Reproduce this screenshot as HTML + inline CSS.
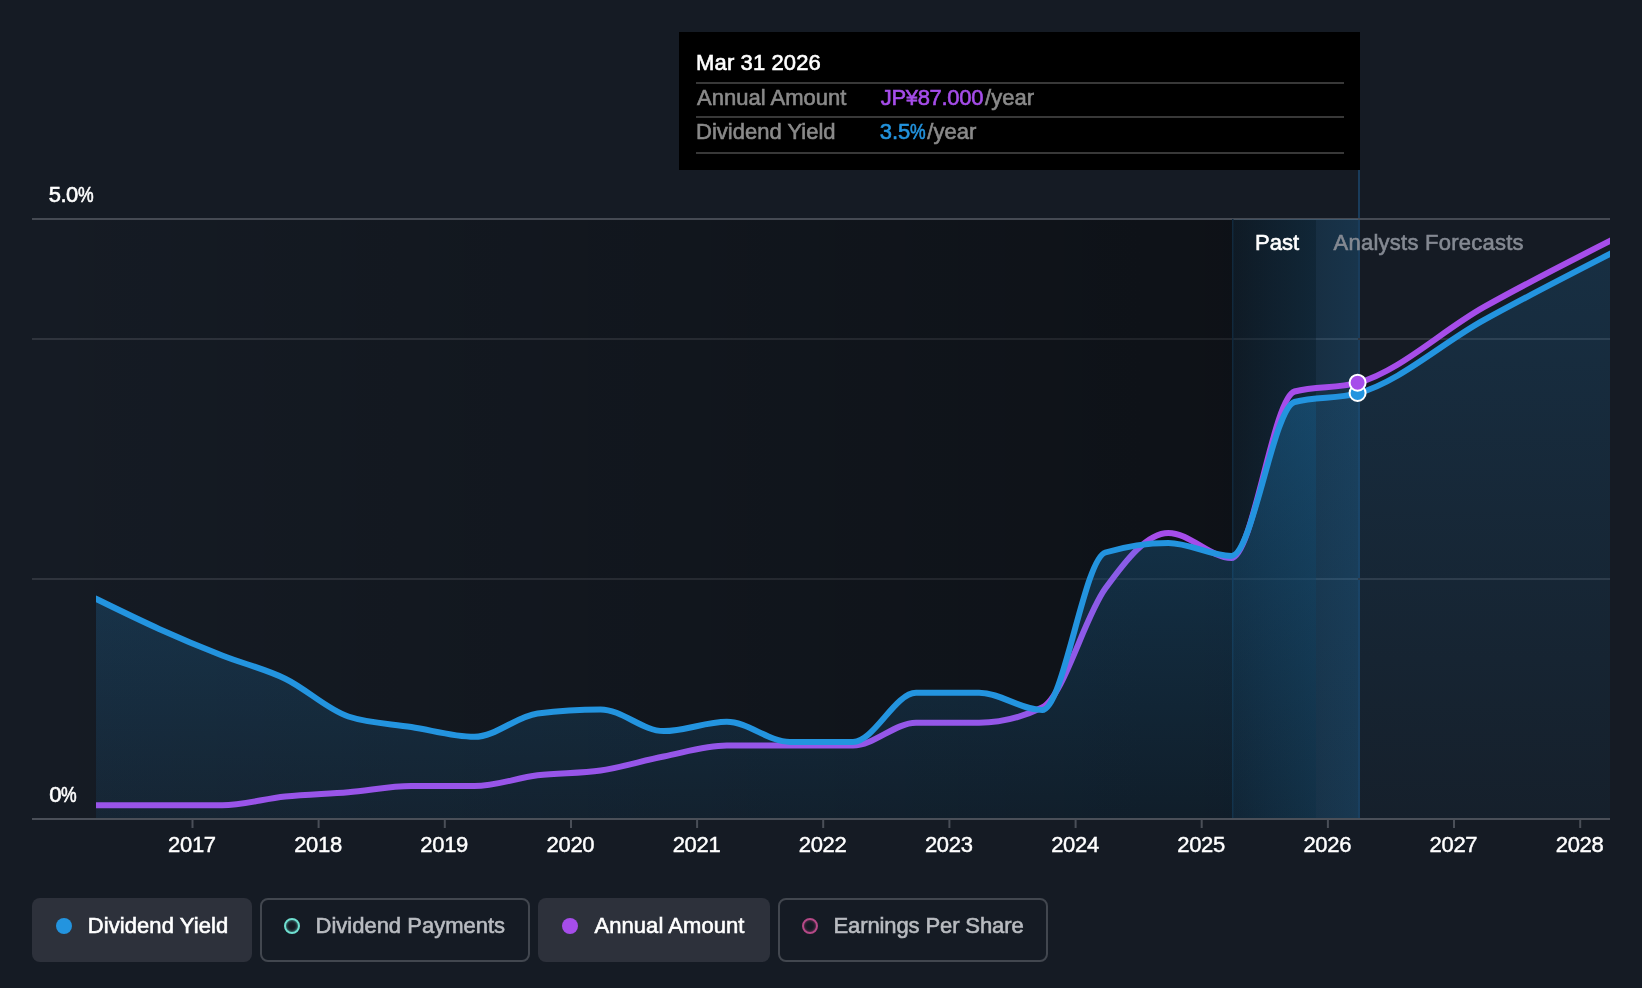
<!DOCTYPE html>
<html><head><meta charset="utf-8"><title>Dividend chart</title>
<style>
html,body{margin:0;padding:0;background:#151b24;}
body{width:1642px;height:988px;position:relative;overflow:hidden;font-family:"Liberation Sans",sans-serif;color:#fff;}
svg{position:absolute;left:0;top:0;}
.txt{position:absolute;left:0;top:0;width:1642px;height:988px;will-change:transform;}
.t{position:absolute;white-space:nowrap;font-size:22px;line-height:26px;-webkit-text-stroke:0.6px currentColor;}
.g{color:#8a8a8a;}
.pc{display:inline-block;transform:scaleX(0.80);transform-origin:0 50%;margin-right:-3.5px;}
.xl{position:absolute;top:832px;width:80px;text-align:center;font-size:22px;line-height:26px;color:#fff;-webkit-text-stroke:0.45px currentColor;letter-spacing:-0.3px;}
.tip{position:absolute;left:679.3px;top:32px;width:680.3px;height:137.6px;background:#000;}
.tip .ln{position:absolute;left:16.7px;width:647.7px;height:2px;background:#383838;}
.btn{position:absolute;top:898px;height:64px;box-sizing:border-box;border-radius:8px;}
.btn.on{background:#2d313b;}
.btn.off{border:2px solid #42474f;}
.dot{position:absolute;top:20px;left:24px;width:16px;height:16px;border-radius:50%;box-sizing:border-box;}
.dot.ring{top:18px;left:22px;border:2px solid #fff;}
.btn .lb{position:absolute;left:56px;top:15px;font-size:22px;line-height:26px;white-space:nowrap;-webkit-text-stroke:0.6px currentColor;}
</style></head><body>
<svg width="1642" height="988" viewBox="0 0 1642 988">
<defs>
<linearGradient id="past" gradientUnits="userSpaceOnUse" x1="32" y1="0" x2="1316" y2="0"><stop offset="0" stop-color="#000" stop-opacity="0"/><stop offset="1" stop-color="#000" stop-opacity="0.385"/></linearGradient>
<linearGradient id="hov" gradientUnits="userSpaceOnUse" x1="1232" y1="0" x2="1358" y2="0"><stop offset="0" stop-color="#2394df" stop-opacity="0.07"/><stop offset="1" stop-color="#2394df" stop-opacity="0.21"/></linearGradient>
<linearGradient id="area" gradientUnits="userSpaceOnUse" x1="0" y1="254" x2="0" y2="819"><stop offset="0" stop-color="#2394df" stop-opacity="0.37"/><stop offset="1" stop-color="#2394df" stop-opacity="0.09"/></linearGradient>
<clipPath id="cpast"><rect x="96" y="200" width="1220" height="620"/></clipPath>
<clipPath id="cfut"><rect x="1316" y="200" width="294" height="620"/></clipPath>
<clipPath id="call"><rect x="96" y="200" width="1514" height="640"/></clipPath>
</defs>
<rect x="1358" y="169" width="2" height="650" fill="#193c5b"/>
<!-- gridlines -->
<rect x="32" y="218" width="1578" height="2" fill="#454a53"/>
<rect x="32" y="338" width="1578" height="2" fill="#2f343d"/>
<rect x="32" y="578" width="1578" height="2" fill="#2f343d"/>
<!-- past shading -->
<rect x="32" y="220" width="1284" height="598" fill="url(#past)"/>
<rect x="1232" y="219" width="126" height="599" fill="url(#hov)"/>
<rect x="1232" y="219" width="1.5" height="600" fill="#11293d"/>
<g clip-path="url(#call)"><path d="M84.00,805.30 L96.00,805.30 C117.03,805.30 138.05,805.30 159.08,805.30 C180.11,805.30 201.13,805.30 222.16,805.30 C243.19,805.30 264.21,798.68 285.24,796.50 C306.27,794.32 327.29,793.93 348.32,792.20 C369.35,790.47 390.37,786.10 411.40,786.10 C432.43,786.10 453.45,786.10 474.48,786.10 C495.51,786.10 516.53,777.90 537.56,775.30 C558.59,772.70 579.61,773.63 600.64,770.50 C621.67,767.37 642.69,760.65 663.72,756.50 C684.75,752.35 705.77,745.60 726.80,745.60 C747.83,745.60 768.85,745.60 789.88,745.60 C810.91,745.60 831.93,745.60 852.96,745.60 C873.99,745.60 895.01,722.80 916.04,722.80 C937.07,722.80 958.09,722.80 979.12,722.80 C1000.15,722.80 1021.17,717.70 1042.20,707.50 C1063.23,697.30 1084.25,617.70 1105.28,588.60 C1126.31,559.50 1147.33,532.90 1168.36,532.90 C1189.39,532.90 1210.41,558.00 1231.44,558.00 C1252.47,558.00 1273.49,397.23 1294.52,391.50 C1315.55,385.77 1336.57,388.63 1357.60,382.90 C1399.65,371.43 1441.71,330.85 1483.76,307.20 C1525.81,283.55 1567.87,262.27 1609.92,241.00 L1621.92,234.93" fill="none" stroke="#a64dea" stroke-width="6" stroke-linejoin="round"/></g>
<g clip-path="url(#cpast)"><path d="M84.00,592.91 L96.00,598.80 C117.03,609.12 138.05,619.45 159.08,628.90 C180.11,638.35 201.13,647.20 222.16,655.50 C243.19,663.80 264.21,668.53 285.24,678.70 C306.27,688.87 327.29,709.50 348.32,716.50 C369.35,723.50 390.37,723.62 411.40,727.00 C432.43,730.38 453.45,736.80 474.48,736.80 C495.51,736.80 516.53,716.23 537.56,713.50 C558.59,710.77 579.61,709.40 600.64,709.40 C621.67,709.40 642.69,731.10 663.72,731.10 C684.75,731.10 705.77,721.80 726.80,721.80 C747.83,721.80 768.85,741.90 789.88,741.90 C810.91,741.90 831.93,741.90 852.96,741.90 C873.99,741.90 895.01,692.80 916.04,692.80 C937.07,692.80 958.09,692.80 979.12,692.80 C1000.15,692.80 1021.17,710.00 1042.20,710.00 C1063.23,710.00 1084.25,558.90 1105.28,552.50 C1126.31,546.10 1147.33,542.90 1168.36,542.90 C1189.39,542.90 1210.41,555.90 1231.44,555.90 C1252.47,555.90 1273.49,407.73 1294.52,402.00 C1315.55,396.27 1336.57,399.13 1357.60,393.40 C1399.65,381.93 1441.71,343.43 1483.76,320.20 C1525.81,296.97 1567.87,275.48 1609.92,254.00 L1621.92,247.87 L1621.92,819 L84,819 Z" fill="url(#area)"/></g>
<g clip-path="url(#cfut)" opacity="0.44"><path d="M84.00,592.91 L96.00,598.80 C117.03,609.12 138.05,619.45 159.08,628.90 C180.11,638.35 201.13,647.20 222.16,655.50 C243.19,663.80 264.21,668.53 285.24,678.70 C306.27,688.87 327.29,709.50 348.32,716.50 C369.35,723.50 390.37,723.62 411.40,727.00 C432.43,730.38 453.45,736.80 474.48,736.80 C495.51,736.80 516.53,716.23 537.56,713.50 C558.59,710.77 579.61,709.40 600.64,709.40 C621.67,709.40 642.69,731.10 663.72,731.10 C684.75,731.10 705.77,721.80 726.80,721.80 C747.83,721.80 768.85,741.90 789.88,741.90 C810.91,741.90 831.93,741.90 852.96,741.90 C873.99,741.90 895.01,692.80 916.04,692.80 C937.07,692.80 958.09,692.80 979.12,692.80 C1000.15,692.80 1021.17,710.00 1042.20,710.00 C1063.23,710.00 1084.25,558.90 1105.28,552.50 C1126.31,546.10 1147.33,542.90 1168.36,542.90 C1189.39,542.90 1210.41,555.90 1231.44,555.90 C1252.47,555.90 1273.49,407.73 1294.52,402.00 C1315.55,396.27 1336.57,399.13 1357.60,393.40 C1399.65,381.93 1441.71,343.43 1483.76,320.20 C1525.81,296.97 1567.87,275.48 1609.92,254.00 L1621.92,247.87 L1621.92,819 L84,819 Z" fill="url(#area)"/></g>
<g clip-path="url(#call)"><path d="M84.00,592.91 L96.00,598.80 C117.03,609.12 138.05,619.45 159.08,628.90 C180.11,638.35 201.13,647.20 222.16,655.50 C243.19,663.80 264.21,668.53 285.24,678.70 C306.27,688.87 327.29,709.50 348.32,716.50 C369.35,723.50 390.37,723.62 411.40,727.00 C432.43,730.38 453.45,736.80 474.48,736.80 C495.51,736.80 516.53,716.23 537.56,713.50 C558.59,710.77 579.61,709.40 600.64,709.40 C621.67,709.40 642.69,731.10 663.72,731.10 C684.75,731.10 705.77,721.80 726.80,721.80 C747.83,721.80 768.85,741.90 789.88,741.90 C810.91,741.90 831.93,741.90 852.96,741.90 C873.99,741.90 895.01,692.80 916.04,692.80 C937.07,692.80 958.09,692.80 979.12,692.80 C1000.15,692.80 1021.17,710.00 1042.20,710.00 C1063.23,710.00 1084.25,558.90 1105.28,552.50 C1126.31,546.10 1147.33,542.90 1168.36,542.90 C1189.39,542.90 1210.41,555.90 1231.44,555.90 C1252.47,555.90 1273.49,407.73 1294.52,402.00 C1315.55,396.27 1336.57,399.13 1357.60,393.40 C1399.65,381.93 1441.71,343.43 1483.76,320.20 C1525.81,296.97 1567.87,275.48 1609.92,254.00 L1621.92,247.87" fill="none" stroke="#2394df" stroke-width="6" stroke-linejoin="round"/></g>
<rect x="32" y="818" width="1578" height="2" fill="#4a4f58"/>
<rect x="191.5" y="819" width="2" height="9" fill="#4a4f58"/><rect x="317.6" y="819" width="2" height="9" fill="#4a4f58"/><rect x="443.8" y="819" width="2" height="9" fill="#4a4f58"/><rect x="570.0" y="819" width="2" height="9" fill="#4a4f58"/><rect x="696.1" y="819" width="2" height="9" fill="#4a4f58"/><rect x="822.2" y="819" width="2" height="9" fill="#4a4f58"/><rect x="948.4" y="819" width="2" height="9" fill="#4a4f58"/><rect x="1074.6" y="819" width="2" height="9" fill="#4a4f58"/><rect x="1200.7" y="819" width="2" height="9" fill="#4a4f58"/><rect x="1326.9" y="819" width="2" height="9" fill="#4a4f58"/><rect x="1453.0" y="819" width="2" height="9" fill="#4a4f58"/><rect x="1579.2" y="819" width="2" height="9" fill="#4a4f58"/>
<circle cx="1357.6" cy="393.0" r="8" fill="#2394df" stroke="#fff" stroke-width="2"/>
<circle cx="1357.6" cy="382.7" r="8" fill="#a64dea" stroke="#fff" stroke-width="2"/>
</svg>
<div class="txt">
<div class="t" id="t50" style="left:48.8px;top:182px;letter-spacing:-0.6px;">5.0<span class="pc">%</span></div>
<div class="t" id="t0" style="left:49.3px;top:782px;letter-spacing:-0.6px;">0<span class="pc">%</span></div>
<div class="xl" style="left:151.9px">2017</div><div class="xl" style="left:278.0px">2018</div><div class="xl" style="left:404.2px">2019</div><div class="xl" style="left:530.4px">2020</div><div class="xl" style="left:656.5px">2021</div><div class="xl" style="left:782.6px">2022</div><div class="xl" style="left:908.8px">2023</div><div class="xl" style="left:1035.0px">2024</div><div class="xl" style="left:1161.1px">2025</div><div class="xl" style="left:1287.3px">2026</div><div class="xl" style="left:1413.4px">2027</div><div class="xl" style="left:1539.6px">2028</div>
<div class="t" id="tpast" style="left:1255px;top:230px;">Past</div>
<div class="t" id="tfc" style="left:1333.5px;top:230px;color:#858a93;letter-spacing:0.25px;">Analysts Forecasts</div>
<div class="tip">
 <div class="t" id="tdate" style="left:16.8px;top:18px;letter-spacing:0.12px;">Mar 31 2026</div>
 <div class="ln" style="top:50px"></div>
 <div class="t g" id="taa" style="left:17.8px;top:53px;">Annual Amount</div>
 <div class="t g" id="tv1" style="left:201.4px;top:53px;"><span style="color:#a64dea;letter-spacing:-0.31px;">JP¥87.000</span><span style="margin-left:2px">/year</span></div>
 <div class="ln" style="top:84px"></div>
 <div class="t g" id="tdy" style="left:16.8px;top:87px;">Dividend Yield</div>
 <div class="t g" id="tv2" style="left:200.4px;top:87px;"><span style="color:#2394df">3.5<span class="pc">%</span></span><span style="margin-left:1px">/year</span></div>
 <div class="ln" style="top:120px"></div>
</div>
<div class="btn on" style="left:32px;width:220px;"><div class="dot" style="background:#2394df"></div><div class="lb" id="l1" style="left:55.7px;letter-spacing:0.09px">Dividend Yield</div></div>
<div class="btn off" style="left:260px;width:270px;"><div class="dot ring" style="border-color:#6fdfd0;box-shadow:inset 0 0 3px rgba(111,223,208,0.75);"></div><div class="lb" id="l2" style="left:53.5px;top:13px;color:#b9bcc1">Dividend Payments</div></div>
<div class="btn on" style="left:538px;width:232px;"><div class="dot" style="background:#a64dea"></div><div class="lb" id="l3" style="left:56.5px;letter-spacing:0.06px">Annual Amount</div></div>
<div class="btn off" style="left:778px;width:270px;"><div class="dot ring" style="border-color:#b64987;box-shadow:inset 0 0 3px rgba(182,73,135,0.65);"></div><div class="lb" id="l4" style="left:53.5px;top:13px;color:#b9bcc1;letter-spacing:-0.11px">Earnings Per Share</div></div>
</div>
</body></html>
